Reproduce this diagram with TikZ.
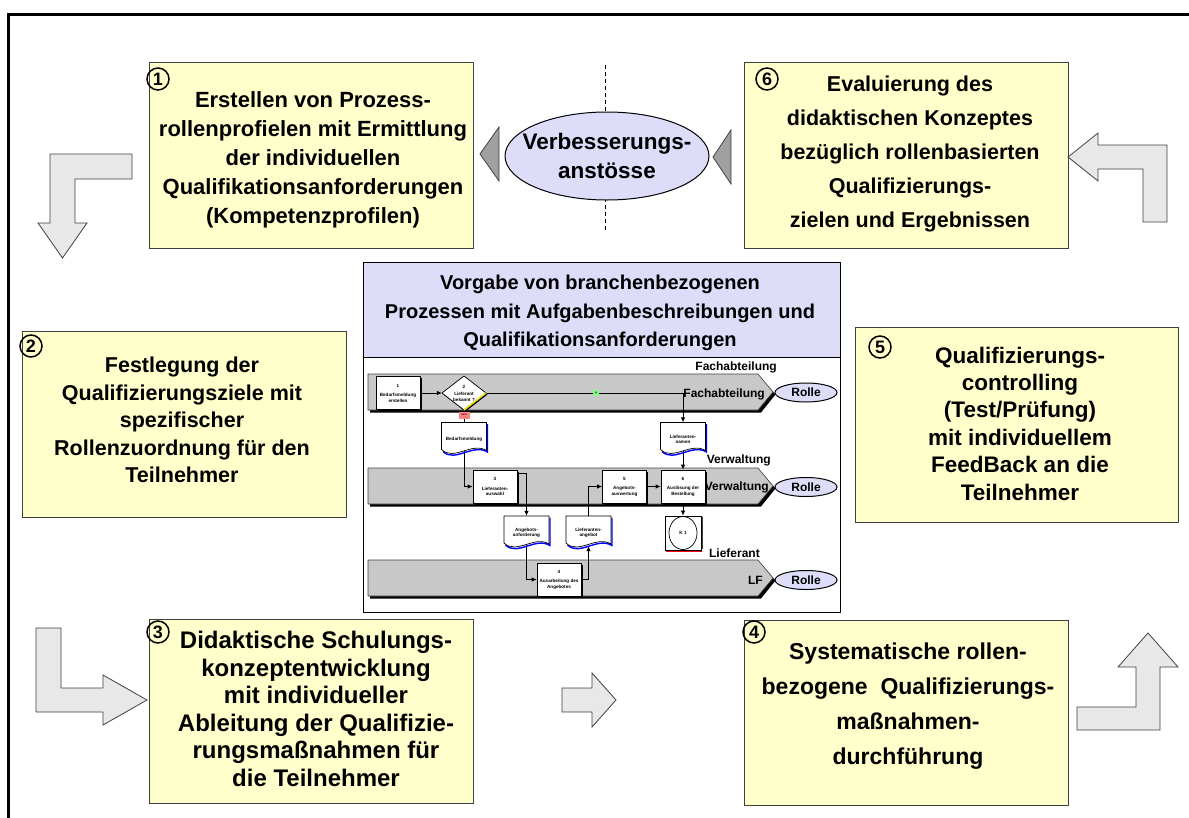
\documentclass[tikz,border=0pt]{standalone}
\usepackage{fontspec}
\setmainfont{Liberation Sans}
\usetikzlibrary{arrows.meta,calc,shapes.geometric}
\pgfdeclarelayer{lanes}
\pgfdeclarelayer{conn}
\pgfsetlayers{lanes,conn,main}

\definecolor{ylw}{RGB}{255,255,204}
\definecolor{lav}{RGB}{221,221,250}
\definecolor{blockgray}{RGB}{232,232,232}
\definecolor{trigray}{RGB}{160,160,160}
\definecolor{lanegray}{RGB}{200,200,200}
\definecolor{edgegray}{RGB}{64,64,64}
\definecolor{neinred}{RGB}{255,128,128}
\definecolor{jagreen}{RGB}{128,255,128}

\tikzset{
 ybox/.style={draw=edgegray, fill=ylw, line width=1, inner sep=0},
 btext/.style 2 args={font=\bfseries\fontsize{#1}{#2}\selectfont, align=center, inner sep=0},
 numc/.style={circle, draw=black, line width=1.5, inner sep=0, minimum size=22, font=\bfseries\fontsize{18}{18}\selectfont},
 blockarrow/.style={fill=blockgray, draw=edgegray, line width=0.8},
 tri/.style={fill=trigray, draw=edgegray, line width=0.8},
 lane/.style={fill=lanegray, draw=edgegray, line width=0.6},
 lanelabel/.style={font=\bfseries\fontsize{12}{12}\selectfont, anchor=east, inner sep=0},
 rolle/.style={ellipse, draw=black, fill=lav, line width=1, minimum width=62, minimum height=19, inner sep=0, font=\bfseries\fontsize{12}{12}\selectfont},
 pbox/.style={draw=black, fill=white, line width=0.7, minimum width=44, minimum height=33, inner sep=0, align=center, font=\bfseries\fontsize{4.6}{5.5}\selectfont},
 docbox/.style={minimum width=45, minimum height=34, inner sep=0, align=center, font=\bfseries\fontsize{4.6}{5.5}\selectfont},
 ptext/.style={align=center, inner sep=0, font=\bfseries\fontsize{4.6}{5.5}\selectfont},
 flow/.style={line width=0.8, -{Latex[length=5pt,width=4.5pt]}},
}

\newcommand{\pnode}[4]{%
  \fill[black] (#2-20.5,#3-15) rectangle (#2+23.5,#3+18);
  \node[pbox] (#1) at (#2,#3) {#4};}

\newcommand{\docn}[4]{%
  \begin{scope}[shift={(#2,#3)}]
   \draw[blue, line width=1.4] (23.5,-15.5) -- (23.5,12.5) .. controls (9,3.5) and (-9,23.5) .. (-21,12);
   \draw[black, fill=white, line width=0.7] (-22.5,-17) -- (22.5,-17) -- (22.5,11) .. controls (8,2) and (-10,22) .. (-22.5,10) -- cycle;
  \end{scope}
  \node[docbox] (#1) at (#2,#3) {#4};}

\begin{document}
\begin{tikzpicture}[x=1pt,y=-1pt]
\useasboundingbox (0,0) rectangle (1189,817);
% outer frame
\draw[line width=3] (8,830) -- (8,14) -- (1200,14);

% ---------- top row ----------
\coordinate (dtop) at (605,65);
\coordinate (dbot) at (605,230);
\draw[line width=0.7, dash pattern=on 4pt off 3pt] (dtop) -- (dbot);
\node[ellipse, draw=black, fill=lav, line width=1, minimum width=204, minimum height=88, inner sep=0] (vb) at (607,156) {};
\node[btext={22.5}{29}] (vbt) at (607,156) {Verbesserungs-\\anst\"osse};
\draw[tri] (480,154) -- (499,127) -- (499,181) -- cycle;
\draw[tri] (713,157) -- (731,130) -- (731,184) -- cycle;

\node[ybox, minimum width=324, minimum height=186] (box1) at (311,155) {};
\node[btext={22}{29}] (box1t) at (313,160) {Erstellen von Prozess-\\rollenprofielen mit Ermittlung\\der individuellen\\Qualifikationsanforderungen\\(Kompetenzprofilen)};
\node[numc] (n1) at (158,79) {1};

\node[ybox, minimum width=324, minimum height=186] (box6) at (906,155) {};
\node[btext={21.5}{34}] (box6t) at (910,154) {Evaluierung des\\didaktischen Konzeptes\\bez\"uglich rollenbasierten\\Qualifizierungs-\\zielen und Ergebnissen};
\node[numc] (n6) at (767,79) {6};

% block arrows
\draw[blockarrow] (132,154) -- (132,179) -- (75,179) -- (75,223) -- (87,223) -- (62.5,258) -- (38,223) -- (50,223) -- (50,154) -- cycle;
\draw[blockarrow] (1068,157) -- (1098,133) -- (1098,145) -- (1167,145) -- (1167,222) -- (1143,222) -- (1143,169) -- (1098,169) -- (1098,181) -- cycle;
\draw[blockarrow] (36,628) -- (61,628) -- (61,688) -- (103,688) -- (103,675) -- (147,700) -- (103,725) -- (103,712) -- (36,712) -- cycle;
\draw[blockarrow] (562,688) -- (592,688) -- (592,673) -- (616,700) -- (592,727) -- (592,712) -- (562,712) -- cycle;
\draw[blockarrow] (1077,707) -- (1136,707) -- (1136,667) -- (1118,667) -- (1148,633) -- (1178,667) -- (1160,667) -- (1160,730) -- (1077,730) -- cycle;

% ---------- middle row ----------
\node[ybox, minimum width=324, minimum height=186] (box2) at (184,424) {};
\node[btext={21.5}{27.5}] (box2t) at (182,420) {Festlegung der\\Qualifizierungsziele mit\\spezifischer\\Rollenzuordnung f\"ur den\\Teilnehmer};
\node[numc] (n2) at (31,346) {2};

\node[ybox, minimum width=323, minimum height=195] (box5) at (1016.5,424.5) {};
\node[btext={22.5}{27.4}] (box5t) at (1020,423.5) {Qualifizierungs-\\controlling\\(Test/Pr\"ufung)\\mit individuellem\\FeedBack an die\\Teilnehmer};
\node[numc] (n5) at (880,347) {5};

% ---------- bottom row ----------
\node[ybox, minimum width=324, minimum height=184] (box3) at (311,711) {};
\node[btext={24}{27.6}] (box3t) at (316,709) {Didaktische Schulungs-\\konzeptentwicklung\\mit individueller\\Ableitung der Qualifizie-\\rungsma\ss nahmen f\"ur\\die Teilnehmer};
\node[numc] (n3) at (158,632) {3};

\node[ybox, minimum width=324, minimum height=185] (box4) at (906,712.5) {};
\node[btext={23}{35}] (box4t) at (908,706) {Systematische rollen-\\bezogene\ \ Qualifizierungs-\\ma\ss nahmen-\\durchf\"uhrung};
\node[numc] (n4) at (754,632) {4};

% ---------- central process panel ----------
\node[draw=black, line width=1, minimum width=477, minimum height=350, inner sep=0] (cbox) at (601.5,437) {};
\node[draw=black, fill=lav, line width=1, minimum width=477, minimum height=95, inner sep=0] (hdr) at (601.5,309.5) {};
\node[btext={20}{28.5}] (hdrt) at (600,313) {Vorgabe von branchenbezogenen\\Prozessen mit Aufgabenbeschreibungen und\\Qualifikationsanforderungen};

% lanes
\begin{pgfonlayer}{lanes}
\fill[black] (370,377) -- (760,377) -- (775.5,394.5) -- (761,412.5) -- (370,412.5) -- cycle;
\draw[lane] (368,374) -- (758,374) -- (773,392) -- (758,410) -- (368,410) -- cycle;
\fill[black] (370,471) -- (760,471) -- (775.5,488.5) -- (761,506.5) -- (370,506.5) -- cycle;
\draw[lane] (368,468) -- (758,468) -- (773,486) -- (758,504) -- (368,504) -- cycle;
\fill[black] (370,563) -- (760,563) -- (775.5,580.5) -- (761,598.5) -- (370,598.5) -- cycle;
\draw[lane] (368,560) -- (758,560) -- (773,578) -- (758,596) -- (368,596) -- cycle;
\end{pgfonlayer}

\node[lanelabel] (l1o) at (777,367) {Fachabteilung};
\node[lanelabel] (l1i) at (765,394.5) {Fachabteilung};
\node[lanelabel] (l2o) at (771,460) {Verwaltung};
\node[lanelabel] (l2i) at (769,487.5) {Verwaltung};
\node[lanelabel] (l3o) at (760,553) {Lieferant};
\node[lanelabel] (l3i) at (763,580) {LF};
\node[rolle] (r1) at (806,392.5) {Rolle};
\node[rolle] (r2) at (806,487) {Rolle};
\node[rolle] (r3) at (806,580) {Rolle};

% process elements
\pnode{pb1}{398}{393}{1\\[4pt]Bedarfsmeldung\\erstellen}
\fill[black] (443.5,394.5) -- (465.5,377.5) -- (487.5,394.5) -- (465.5,411.5) -- cycle;
\draw[black, fill=white, line width=0.7] (442,393) -- (464,376) -- (486,393) -- (464,410) -- cycle;
\draw[yellow!90!black, line width=1.6] (486,393) -- (464,410);
\node[ptext, minimum width=44, minimum height=34] (d2) at (464,393) {2\\[2pt]Lieferant\\bekannt ?};
\node[fill=neinred, minimum width=11, minimum height=7, inner sep=0, font=\bfseries\fontsize{2.5}{3}\selectfont] (nein) at (464,415) {nein};
\node[fill=jagreen, minimum width=6, minimum height=6, inner sep=0, font=\bfseries\fontsize{2.5}{3}\selectfont] (ja) at (596,393) {ja};
\docn{dbed}{464}{439.5}{Bedarfsmeldung}
\docn{dlief}{683}{439.5}{Lieferanten-\\namen}

\pnode{pb3}{495}{486.5}{3\\[4pt]Lieferanten-\\auswahl}
\pnode{pb5}{624.5}{486.5}{5\\[4pt]Angebots-\\auswertung}
\pnode{pb6}{683}{486.5}{6\\[4pt]Ausl\"osung der\\Bestellung}
\docn{dangf}{526.5}{533}{Angebots-\\anforderung}
\docn{dlang}{588.5}{533}{Lieferanten-\\angebot}
\pnode{pb4}{559}{579.5}{4\\[4pt]Ausarbeitung des\\Angebotes}

\fill[red] (666,518) rectangle (702,552);
\fill[edgegray] (701,517) rectangle (703,549);
\node[draw=black, fill=white, line width=0.7, minimum width=36, minimum height=34, inner sep=0] (k1) at (683,533) {};
\node[ellipse, draw=black, line width=0.7, minimum width=28, minimum height=33, inner sep=0, ptext] (k1e) at (683,533) {K 1};

% connectors
\begin{pgfonlayer}{conn}
\draw[flow] (pb1.east) -- (d2.west);
\draw[line width=0.8] (d2.south) -- (dbed.center);
\draw[flow] (dbed.center) |- (pb3.west);
\draw[flow] (d2.east) -| (dlief.north);
\draw[flow] (dlief.center) -- (pb6.north);
\draw[flow] (pb5.east) -- (pb6.west);
\draw[flow] ($(pb3.north east)+(0,4)$) -| (dangf.north);
\draw[flow] (dangf.center) |- (pb4.west);
\draw[flow] (pb4.east) -| ($(dlang.south)+(0,-4)$);
\draw[flow] (dlang.center) |- (pb5.west);
\draw[flow] (pb6.south) -- (k1.north);
\end{pgfonlayer}
\end{tikzpicture}
\end{document}
